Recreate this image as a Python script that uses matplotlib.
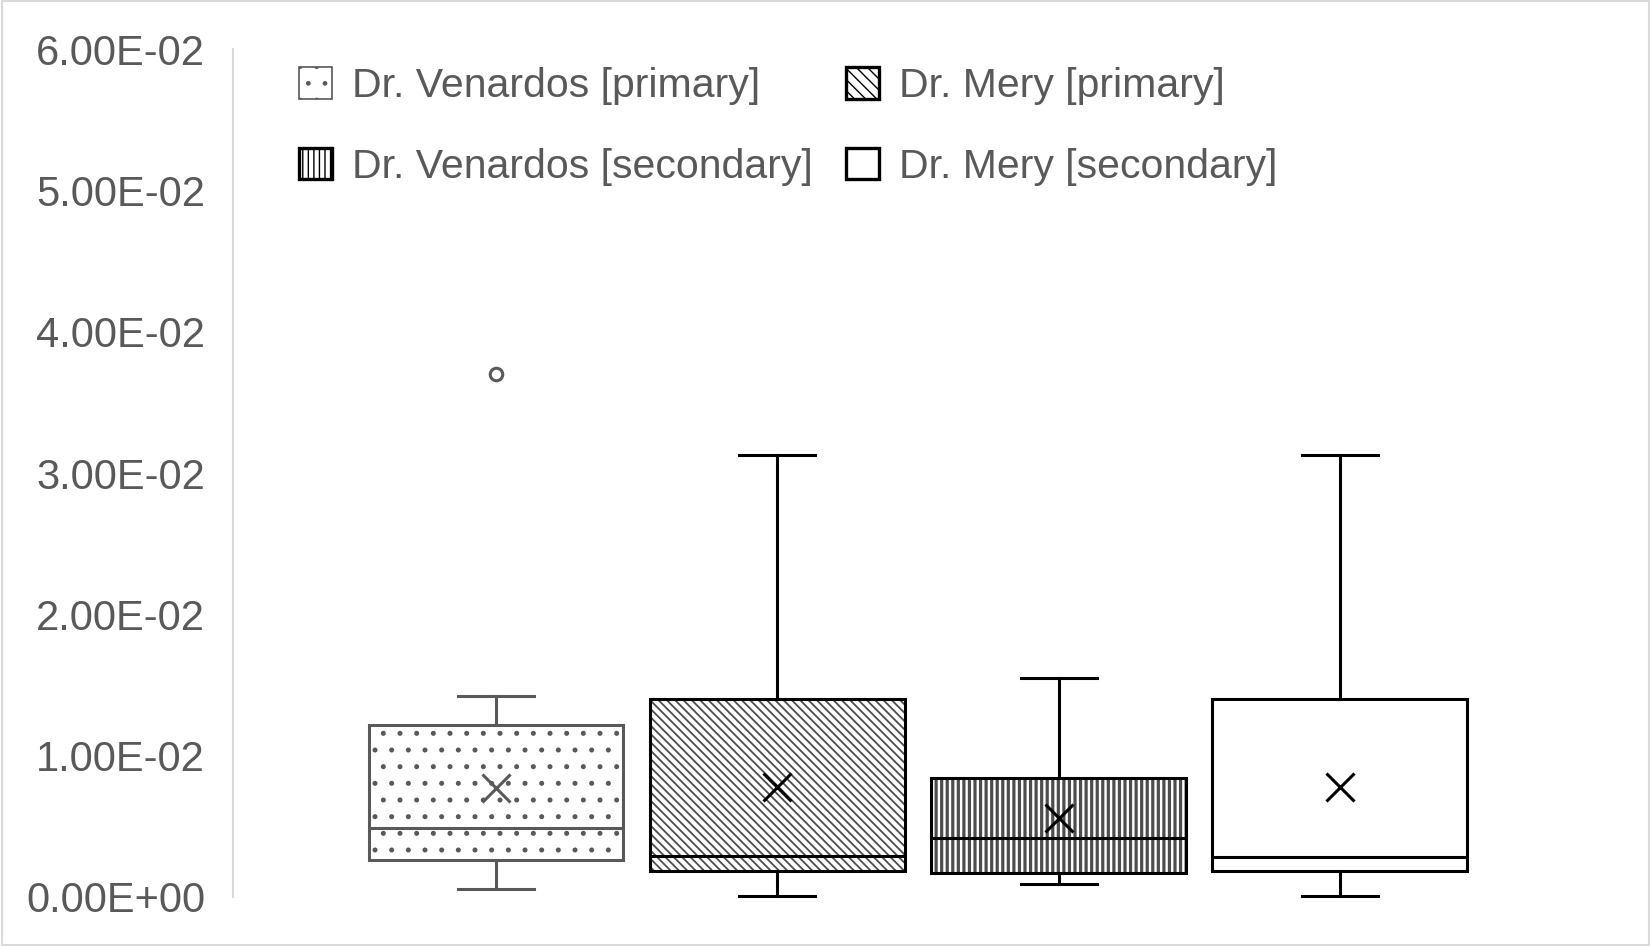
import matplotlib.pyplot as plt
from matplotlib.patches import Patch, Rectangle, PathPatch
from matplotlib.ticker import FuncFormatter

plt.rcParams['font.family'] = ['Liberation Sans', 'DejaVu Sans']

# Series
labels = ['Dr. Venardos [primary]', 'Dr. Mery [primary]',
          'Dr. Venardos [secondary]', 'Dr. Mery [secondary]']
whislo = [0.0006, 0.00007, 0.0009, 0.00007]
q1 = [0.0026, 0.00187, 0.00172, 0.00187]
med = [0.0049, 0.0029, 0.0042, 0.0028]
q3 = [0.0122, 0.0140, 0.0084, 0.0140]
whishi = [0.0142, 0.0313, 0.0155, 0.0313]
means = [0.0077, 0.0078, 0.0056, 0.0078]
fliers = [[0.0370], [], [], []]
yticks = [0.0, 0.01, 0.02, 0.03, 0.04, 0.05, 0.06]

hatches = ['.', '\\\\\\\\', '|||', '']
edges = ['#595959', 'black', 'black', 'black']
hatch_cols = ['#595959', '#4d4d4d', '#4d4d4d', 'black']
hatch_lw = [1.2, 1.3, 2.3, 1.0]
text_col = '#595959'

fig = plt.figure(figsize=(16.51, 9.46), dpi=100)
ax = fig.add_axes([0.141, 0.0518, 0.83, 0.8959])

stats = []
for i in range(len(labels)):
    stats.append(dict(label=labels[i], whislo=whislo[i], q1=q1[i], med=med[i],
                      q3=q3[i], whishi=whishi[i], mean=means[i], fliers=fliers[i]))

pos = [1, 2, 3, 4]
bp = ax.bxp(stats, positions=pos, widths=0.906, capwidths=0.27, patch_artist=True,
            showmeans=True, showfliers=True)

for i, box in enumerate(bp['boxes']):
    box.set_facecolor('white')
    # hatch takes the edge colour, so draw the outline again on top
    box.set_edgecolor(hatch_cols[i])
    box.set_linewidth(0)
    box.set_hatch(hatches[i])
    if hasattr(box, 'set_hatch_linewidth'):
        box.set_hatch_linewidth(hatch_lw[i])
    outline = PathPatch(box.get_path(), transform=box.get_transform(), fill=False,
                        edgecolor=edges[i], linewidth=2.2, zorder=box.get_zorder() + 0.1)
    ax.add_patch(outline)
for i in range(len(labels)):
    for ln in bp['whiskers'][2 * i:2 * i + 2] + bp['caps'][2 * i:2 * i + 2]:
        ln.set_color(edges[i])
        ln.set_linewidth(2.2)
    bp['medians'][i].set_color(edges[i])
    bp['medians'][i].set_linewidth(2.2)
    bp['medians'][i].set_zorder(3)
    m = bp['means'][i]
    m.set_marker('x')
    m.set_markersize(20)
    m.set_markeredgewidth(2.2)
    m.set_markeredgecolor('black' if i else '#595959')
    m.set_markerfacecolor('none')
    m.set_zorder(4)
    f = bp['fliers'][i]
    f.set_marker('o')
    f.set_markersize(9)
    f.set_markeredgewidth(2.2)
    f.set_markeredgecolor('#595959')
    f.set_markerfacecolor('none')
for a in ax.get_children():
    a.set_clip_on(False)

ax.set_xlim(0.064, 4.936)
ax.set_ylim(0, 0.06)
ax.set_yticks(yticks)
ax.yaxis.set_major_formatter(FuncFormatter(lambda v, p: '{:.2E}'.format(v)))
ax.set_xticks([])
ax.tick_params(axis='y', length=0, pad=20, labelsize=30, labelcolor=text_col)
for s in ['top', 'right', 'bottom']:
    ax.spines[s].set_visible(False)
ax.spines['left'].set_color('#d9d9d9')
ax.spines['left'].set_linewidth(1.5)

# legend is filled column by column, so order for row-wise reading
order = [0, 2, 1, 3]
leg_hatch = ['.', '\\\\\\', '|||', '']
handles = []
for i in order:
    handles.append(Patch(facecolor='white', edgecolor=edges[i], hatch=leg_hatch[i],
                         linewidth=1.2 if i == 0 else 2.4))
leg = fig.legend(handles, [labels[i] for i in order], ncol=2, loc='upper left',
                 bbox_to_anchor=(0.181, 0.929), frameon=False, fontsize=29.5,
                 handlelength=0.82, handleheight=0.82, handletextpad=0.48,
                 columnspacing=0.8, labelspacing=1.03, borderpad=0, borderaxespad=0)
for t in leg.get_texts():
    t.set_color(text_col)

fig.patches.append(Rectangle((0.001, 0.001), 0.998, 0.998, transform=fig.transFigure,
                             fill=False, edgecolor='#d9d9d9', linewidth=1.5))

fig.savefig('out.png', dpi=100)
